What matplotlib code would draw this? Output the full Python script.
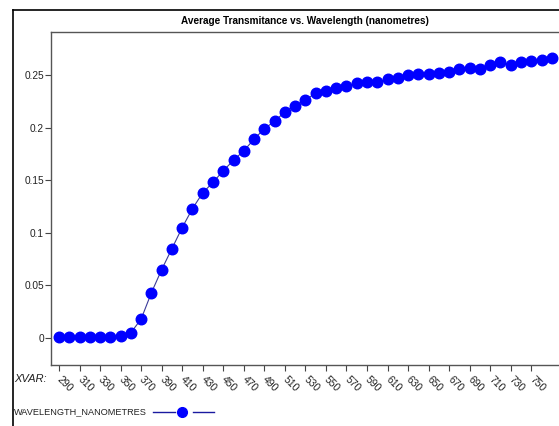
import matplotlib.pyplot as plt
from matplotlib.lines import Line2D

# data
wavelength = [290, 300, 310, 320, 330, 340, 350, 360, 370, 380,
              390, 400, 410, 420, 430, 440, 450, 460, 470, 480,
              490, 500, 510, 520, 530, 540, 550, 560, 570, 580,
              590, 600, 610, 620, 630, 640, 650, 660, 670, 680,
              690, 700, 710, 720, 730, 740, 750, 760, 770]
transmittance = [0.001, 0.001, 0.001, 0.001, 0.001, 0.001, 0.002, 0.005, 0.018, 0.043,
                 0.065, 0.085, 0.105, 0.123, 0.138, 0.148, 0.159, 0.169, 0.178, 0.189,
                 0.199, 0.206, 0.215, 0.221, 0.226, 0.233, 0.235, 0.238, 0.240, 0.242,
                 0.243, 0.243, 0.246, 0.247, 0.250, 0.251, 0.251, 0.252, 0.253, 0.256,
                 0.257, 0.256, 0.260, 0.262, 0.260, 0.262, 0.263, 0.264, 0.266]
xticks = list(range(290, 751, 20))
yticks = [0, 0.05, 0.1, 0.15, 0.2, 0.25]
ytick_labels = ["0", "0.05", "0.1", "0.15", "0.2", "0.25"]

title = "Average Transmitance vs. Wavelength (nanometres)"
series_name = "WAVELENGTH_NANOMETRES"

plt.rcParams["font.family"] = ["Liberation Sans", "DejaVu Sans"]

W, H = 559, 426
fig = plt.figure(figsize=(W / 100, H / 100), dpi=100)

def fx(px):
    return px / W

def fy(py):
    return 1 - py / H

ax = fig.add_axes([fx(51), fy(365), fx(559 - 51), (365 - 32) / H])

ax.plot(wavelength, transmittance, color="#3a3a9a", linewidth=0.8, zorder=2)
ax.plot(wavelength, transmittance, linestyle="none", marker="o", markersize=7.6,
        markerfacecolor="#0000ff", markeredgecolor="#0000ff", zorder=3)

ax.set_xlim(282.2, 777)
ax.set_ylim(-0.0257, 0.2909)

ax.set_xticks(xticks)
ax.set_xticklabels([str(v) for v in xticks], rotation=-45, ha="left", va="center",
                   rotation_mode="anchor", fontsize=7.5, color="#222222")
ax.set_yticks(yticks)
ax.set_yticklabels(ytick_labels, fontsize=7.3, color="#222222")
ax.tick_params(axis="both", direction="out", length=4, width=0.8, color="#444444")
ax.tick_params(axis="x", pad=5)
ax.tick_params(axis="y", pad=1)

for side in ["left", "bottom", "top"]:
    ax.spines[side].set_color("#555555")
    ax.spines[side].set_linewidth(1.0)
ax.spines["right"].set_visible(False)

# outer frame
fig.add_artist(Line2D([fx(13), 1], [fy(10), fy(10)], transform=fig.transFigure,
                      color="black", linewidth=1.2))
fig.add_artist(Line2D([fx(13), fx(13)], [fy(10), 0], transform=fig.transFigure,
                      color="black", linewidth=1.2))

fig.text(fx(305), fy(21), title, ha="center", va="center", fontsize=7.2,
         fontweight="bold", color="black")

fig.text(fx(14), fy(379), "XVAR:", ha="left", va="center", fontsize=8,
         style="italic", color="#222222")

# legend
fig.text(fx(14), fy(412), series_name, ha="left", va="center", fontsize=6.6,
         color="#222222")
fig.add_artist(Line2D([fx(153), fx(175)], [fy(412), fy(412)], transform=fig.transFigure,
                      color="#1a1aa0", linewidth=1.0))
fig.add_artist(Line2D([fx(193), fx(214)], [fy(412), fy(412)], transform=fig.transFigure,
                      color="#1a1aa0", linewidth=1.0))
fig.add_artist(Line2D([fx(182)], [fy(412)], transform=fig.transFigure, linestyle="none",
                      marker="o", markersize=7, markerfacecolor="#0000ff",
                      markeredgecolor="#0000ff"))

fig.savefig("out.png", dpi=100)
